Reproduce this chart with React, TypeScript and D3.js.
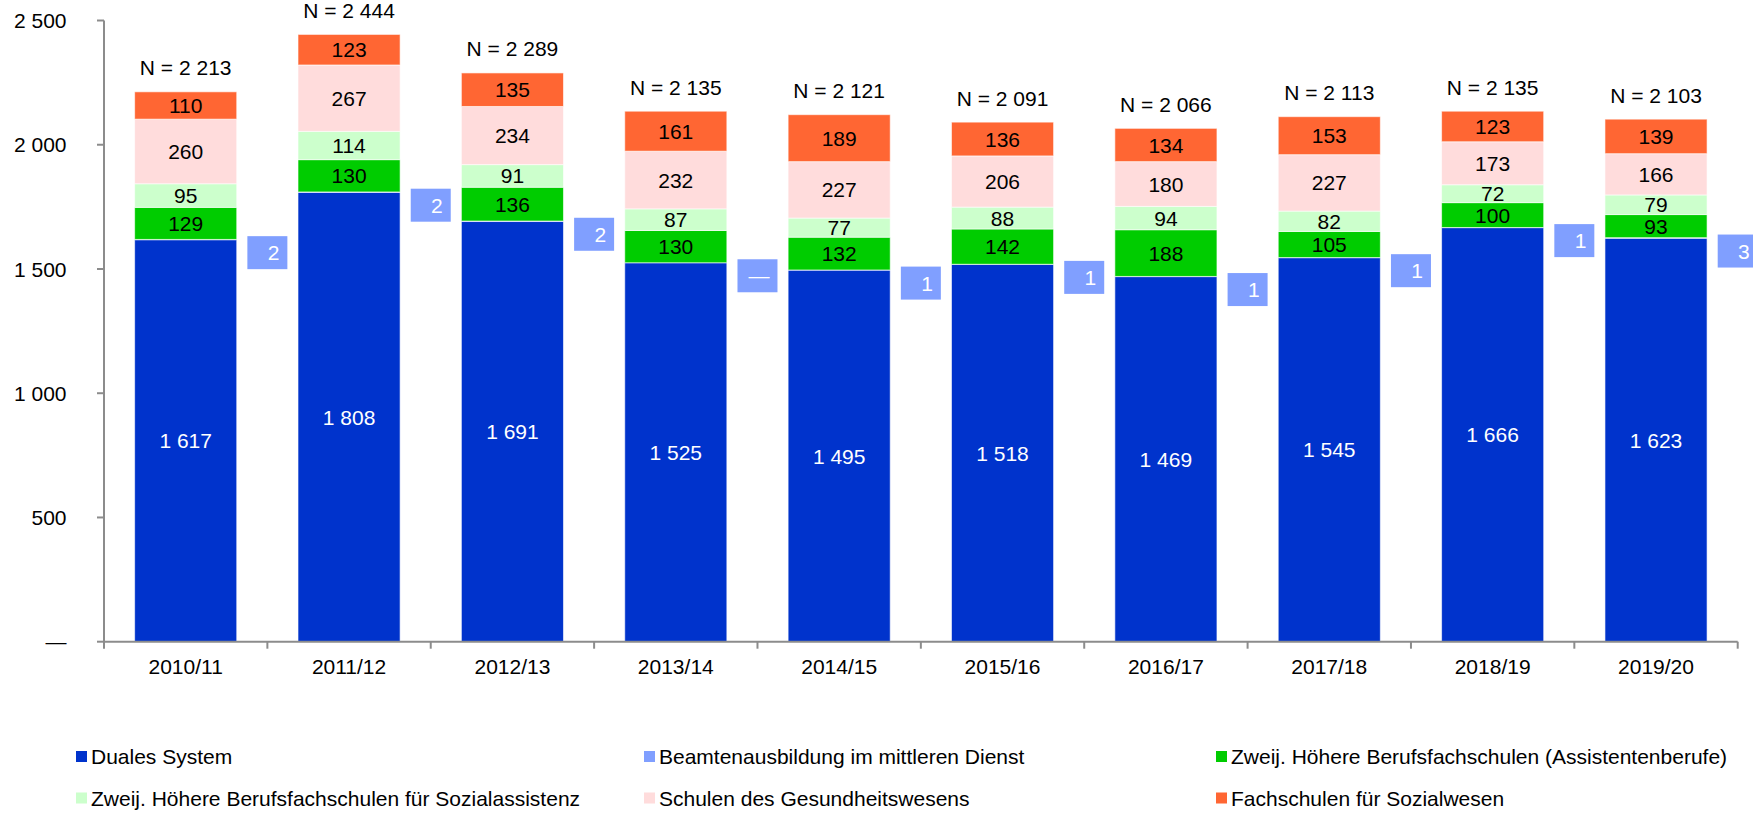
import React from "react";
import * as d3 from "d3";

const categories = ["2010/11", "2011/12", "2012/13", "2013/14", "2014/15", "2015/16", "2016/17", "2017/18", "2018/19", "2019/20"];
const seriesNames = [
  "Duales System",
  "Beamtenausbildung im mittleren Dienst",
  "Zweij. Höhere Berufsfachschulen (Assistentenberufe)",
  "Zweij. Höhere Berufsfachschulen für Sozialassistenz",
  "Schulen des Gesundheitswesens",
  "Fachschulen für Sozialwesen",
];
const duales = [1617, 1808, 1691, 1525, 1495, 1518, 1469, 1545, 1666, 1623];
const beamten = [2, 2, 2, 0, 1, 1, 1, 1, 1, 3];
const assistenten = [129, 130, 136, 130, 132, 142, 188, 105, 100, 93];
const sozialassistenz = [95, 114, 91, 87, 77, 88, 94, 82, 72, 79];
const gesundheit = [260, 267, 234, 232, 227, 206, 180, 227, 173, 166];
const sozialwesen = [110, 123, 135, 161, 189, 136, 134, 153, 123, 139];
const totals = [2213, 2444, 2289, 2135, 2121, 2091, 2066, 2113, 2135, 2103];
const yTickValues = [0, 500, 1000, 1500, 2000, 2500];
const yTickLabels = ["—", "500", "1 000", "1 500", "2 000", "2 500"];

const colors = ["#0033CC", "#809FFF", "#00CC00", "#CCFFCC", "#FFDCDC", "#FF6633"];
const font = "'Liberation Sans', Arial, sans-serif";

const fmt = (v: number) => (v === 0 ? "—" : d3.format(",")(v).replace(/,/g, " "));

export default function App() {
  const W = 1753, H = 813;
  const xL = 104, xR = 1737.7, y0 = 641.7, yTop = 20.5;
  const y = d3.scaleLinear().domain([0, 2500]).range([y0, yTop]);
  const x = d3.scaleBand<string>().domain(categories).range([xL, xR]).padding(0);
  const step = x.step();
  const bw = step * 0.625;
  const series = [duales, beamten, assistenten, sozialassistenz, gesundheit, sozialwesen];
  const table = categories.map((c, i) => {
    const row: any = { cat: c };
    series.forEach((s, k) => (row["s" + k] = s[i]));
    return row;
  });
  const stack = d3.stack<any>().keys(series.map((_, k) => "s" + k))(table);
  const fs = 21;
  const axisColor = "#8C8C8C";

  const legendCols = [76, 644, 1216];
  const legendRows = [756.5, 798];

  return (
    <svg width={W} height={H} style={{ position: "absolute", left: 0, top: 0, display: "block" }} fontFamily={font}>
      <rect x={0} y={0} width={W} height={H} fill="#fff" />
      {/* bars */}
      {stack.map((layer, k) =>
        k === 1 ? null : (
          <g key={k}>
            {layer.map((d, i) => {
              const bx = (x(categories[i]) as number) + (step - bw) / 2;
              const yt = y(d[1]);
              const yb = y(d[0]);
              const v = series[k][i];
              return (
                <g key={i}>
                  <rect x={bx} y={yt} width={bw} height={yb - yt} fill={colors[k]} stroke="#fff" strokeOpacity={0.6} strokeWidth={1} />
                  <text
                    x={bx + bw / 2}
                    y={(yt + yb) / 2}
                    dy="0.36em"
                    textAnchor="middle"
                    fontSize={fs}
                    fill={k === 0 ? "#fff" : "#000"}
                  >
                    {fmt(v)}
                  </text>
                </g>
              );
            })}
          </g>
        )
      )}
      {/* Beamten labels */}
      {stack[1].map((d, i) => {
        const cx = (x(categories[i]) as number) + step;
        const cy = y((d[0] + d[1]) / 2) + 13;
        return (
          <g key={"b" + i}>
            <rect x={cx - 20} y={cy - 16.5} width={40} height={33} fill={colors[1]} />
            <text x={cx + 12} y={cy} dy="0.36em" textAnchor="end" fontSize={fs} fill="#fff">
              {fmt(beamten[i])}
            </text>
          </g>
        );
      })}
      {/* N labels */}
      {totals.map((t, i) => (
        <text
          key={"n" + i}
          x={(x(categories[i]) as number) + step / 2}
          y={y(t) - 24}
          dy="0.36em"
          textAnchor="middle"
          fontSize={fs}
          fill="#000"
        >
          {"N = " + fmt(t)}
        </text>
      ))}
      {/* y axis */}
      <line x1={xL} x2={xL} y1={yTop} y2={y0} stroke={axisColor} strokeWidth={2} />
      {yTickValues.map((v, i) => (
        <g key={"yt" + i}>
          <line x1={xL - 7} x2={xL} y1={y(v)} y2={y(v)} stroke={axisColor} strokeWidth={2} />
          <text x={66.5} y={y(v)} dy="0.36em" textAnchor="end" fontSize={fs} fill="#000">
            {yTickLabels[i]}
          </text>
        </g>
      ))}
      {/* x axis */}
      <line x1={xL} x2={xR} y1={y0} y2={y0} stroke={axisColor} strokeWidth={2} />
      {categories.map((c, i) => (
        <line key={"xt" + i} x1={xL + step * i} x2={xL + step * i} y1={y0} y2={y0 + 7} stroke={axisColor} strokeWidth={2} />
      ))}
      <line x1={xR} x2={xR} y1={y0} y2={y0 + 7} stroke={axisColor} strokeWidth={2} />
      {categories.map((c) => (
        <text key={"xl" + c} x={(x(c) as number) + step / 2} y={673.5} textAnchor="middle" fontSize={fs} fill="#000">
          {c}
        </text>
      ))}
      {/* legend */}
      {seriesNames.map((name, k) => {
        const col = k % 3;
        const row = Math.floor(k / 3);
        const lx = legendCols[col];
        const ly = legendRows[row];
        return (
          <g key={"lg" + k}>
            <rect x={lx} y={ly - 5.5} width={11} height={11} fill={colors[k]} />
            <text x={lx + 15} y={ly} dy="0.36em" fontSize={fs} fill="#000">
              {name}
            </text>
          </g>
        );
      })}
    </svg>
  );
}
